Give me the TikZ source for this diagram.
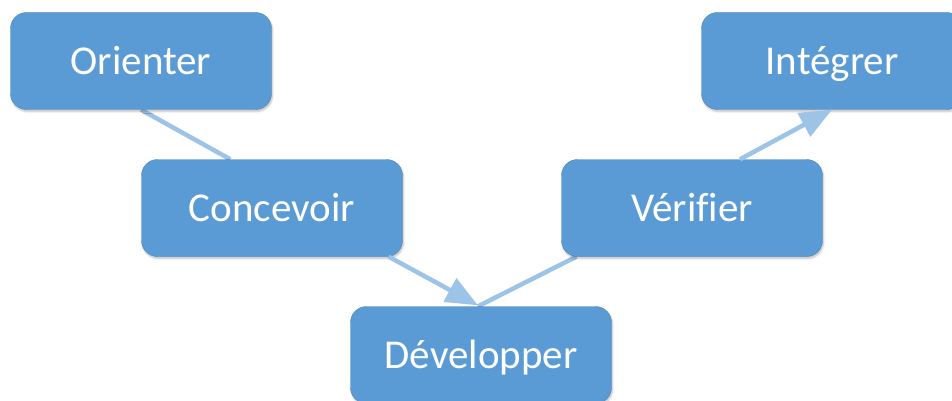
\documentclass[tikz,border=0pt]{standalone}
\usepackage{fontspec}
\setmainfont{Carlito}[Ligatures=CommonOff]
\usetikzlibrary{arrows.meta,calc,backgrounds,shadows.blur}
\definecolor{boxblue}{HTML}{5B9BD5}
\definecolor{lineblue}{HTML}{9DC3E6}
\tikzset{
  stepbox/.style={rectangle, rounded corners=16pt, fill=boxblue, draw=boxblue!85!black, line width=0.4pt,
    minimum width=261pt, minimum height=97pt, inner sep=0pt, text=white,
    text height=27pt, text depth=0pt,
    font=\fontsize{41pt}{49pt}\selectfont,
    blur shadow={shadow xshift=1pt, shadow yshift=-2pt, shadow blur steps=6, shadow opacity=25}},
  link/.style={draw=lineblue, line width=4.5pt},
  arrowlink/.style={link, -{Triangle[length=32pt, width=26pt]}}
}
\begin{document}
\begin{tikzpicture}[x=1pt,y=-1pt]
\useasboundingbox (0,0) rectangle (952,401);
\node[stepbox] (ori) at (141,61) {Orienter};
\node[stepbox] (con) at (272,208) {Concevoir};
\node[stepbox] (dev) at (481,355) {Développer};
\node[stepbox] (ver) at (692,208) {Vérifier};
\node[stepbox] (int) at (832,61) {Intégrer};
\begin{pgfonlayer}{background}
\draw[link] (ori.south) -- ($(con.north west)+(89,0)$);
\draw[link] ($(ver.south west)+(15,0)$) -- ($(dev.north)+(-3,0)$);
\end{pgfonlayer}
\draw[arrowlink] ($(con.south east)+(-14,0)$) -- ($(dev.north)+(-3,-1)$);
\draw[arrowlink] ($(ver.north)+(48,0)$) -- (int.south);
\end{tikzpicture}
\end{document}
